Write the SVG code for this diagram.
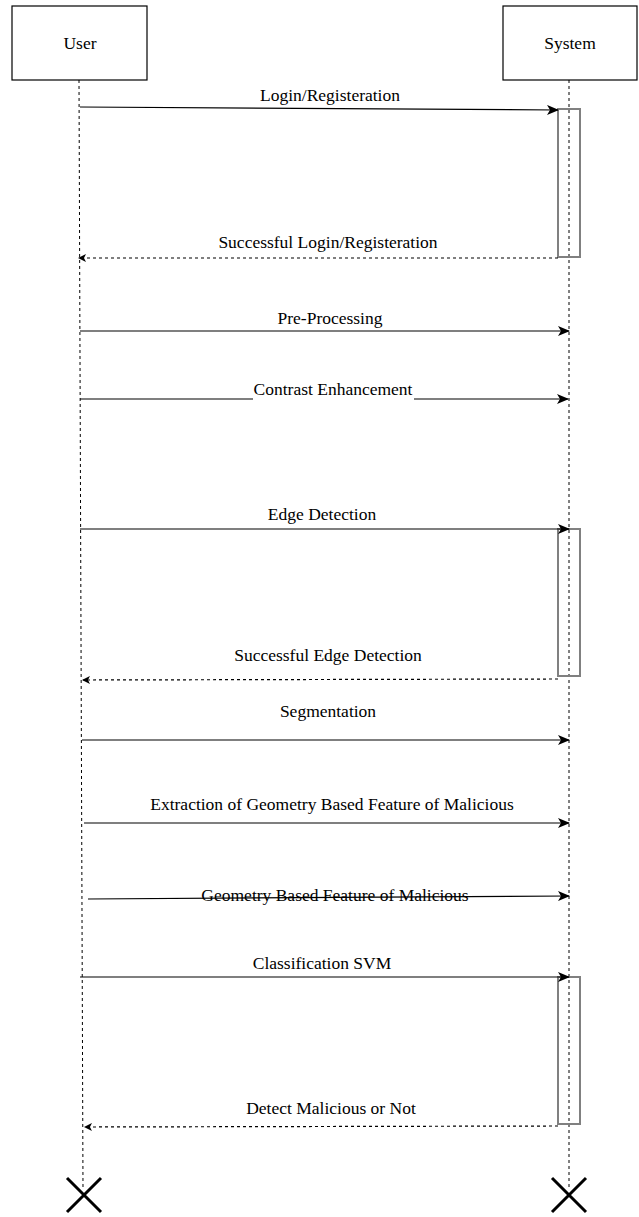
<svg xmlns="http://www.w3.org/2000/svg" width="639" height="1217" viewBox="0 0 639 1217">
  <style>
    .box { fill: #ffffff; stroke: #000000; stroke-width: 1.2; }
    .life { stroke: #000000; stroke-width: 1; stroke-dasharray: 3 3; fill: none; }
    .act { fill: none; stroke: #808080; stroke-width: 2; }
    .msg { stroke: #000000; stroke-width: 1.2; fill: none; }
    .ret { stroke: #000000; stroke-width: 1.2; stroke-dasharray: 3 3; fill: none; }
    .lbl { font-family: 'Liberation Serif', 'Times New Roman', serif; font-size: 17.5px; fill: #000000; text-anchor: middle; }
    .end { stroke: #000000; stroke-width: 3; fill: none; }
  </style>
  <defs>
    <marker id="solidHead" viewBox="0 0 12 10" refX="11" refY="5" markerWidth="12" markerHeight="10" markerUnits="userSpaceOnUse" orient="auto">
      <path d="M0,0 L12,5 L0,10 L3,5 Z" fill="#000000"/>
    </marker>
    <marker id="openHead" viewBox="0 0 8 8" refX="7" refY="4" markerWidth="8" markerHeight="8" markerUnits="userSpaceOnUse" orient="auto">
      <path d="M0,0 L8,4 L0,8 L2,4 Z" fill="#000000"/>
    </marker>
  </defs>

  <!-- lifelines -->
  <g id="lifelines">
    <line class="life" x1="79" y1="80" x2="83" y2="1190"/>
    <line class="life" x1="569" y1="80" x2="569" y2="1190"/>
  </g>

  <!-- participants -->
  <g id="user">
    <rect class="box" x="12" y="6" width="135" height="74"/>
    <text class="lbl" x="80" y="49" font-family="Liberation Serif, serif">User</text>
  </g>
  <g id="system">
    <rect class="box" x="503" y="6" width="134" height="74"/>
    <text class="lbl" x="570" y="49" font-family="Liberation Serif, serif">System</text>
  </g>

  <!-- activation bars -->
  <g id="activations">
    <rect class="act" x="558" y="109" width="22" height="148"/>
    <rect class="act" x="558" y="529" width="22" height="147"/>
    <rect class="act" x="558" y="977" width="22" height="147"/>
  </g>

  <!-- messages -->
  <g id="connectors">
    <line class="msg" x1="80" y1="107" x2="558" y2="110" marker-end="url(#solidHead)"/>
    <line class="ret" x1="558" y1="258" x2="79" y2="258" marker-end="url(#openHead)"/>
    <line class="msg" x1="80" y1="331" x2="569" y2="331" marker-end="url(#solidHead)"/>
    <line class="msg" x1="80" y1="399" x2="253" y2="399"/>
    <line class="msg" x1="414" y1="399" x2="568" y2="399" marker-end="url(#solidHead)"/>
    <line class="msg" x1="80" y1="529" x2="569" y2="529" marker-end="url(#solidHead)"/>
    <line class="ret" x1="558" y1="679" x2="83" y2="680" marker-end="url(#openHead)"/>
    <line class="msg" x1="82" y1="740" x2="569" y2="740" marker-end="url(#solidHead)"/>
    <line class="msg" x1="84" y1="823" x2="569" y2="823" marker-end="url(#solidHead)"/>
    <line class="msg" x1="88" y1="899" x2="569" y2="896" marker-end="url(#solidHead)"/>
    <line class="msg" x1="80" y1="977" x2="569" y2="977" marker-end="url(#solidHead)"/>
    <line class="ret" x1="558" y1="1126" x2="85" y2="1127" marker-end="url(#openHead)"/>
  </g>

  <!-- message labels -->
  <g id="labels" font-family="Liberation Serif, serif">
    <text class="lbl" x="330" y="101">Login/Registeration</text>
    <text class="lbl" x="328" y="248">Successful Login/Registeration</text>
    <text class="lbl" x="330" y="324">Pre-Processing</text>
    <text class="lbl" x="333" y="395">Contrast Enhancement</text>
    <text class="lbl" x="322" y="520">Edge Detection</text>
    <text class="lbl" x="328" y="661">Successful Edge Detection</text>
    <text class="lbl" x="328" y="717">Segmentation</text>
    <text class="lbl" x="332" y="810">Extraction of Geometry Based Feature of Malicious</text>
    <text class="lbl" x="335" y="901">Geometry Based Feature of Malicious</text>
    <text class="lbl" x="322" y="969">Classification SVM</text>
    <text class="lbl" x="331" y="1114">Detect Malicious or Not</text>
  </g>

  <!-- destruction marks -->
  <g id="user-end">
    <path class="end" d="M67,1178 L101,1212 M101,1178 L67,1212"/>
  </g>
  <g id="system-end">
    <path class="end" d="M552,1178 L586,1212 M586,1178 L552,1212"/>
  </g>
</svg>
